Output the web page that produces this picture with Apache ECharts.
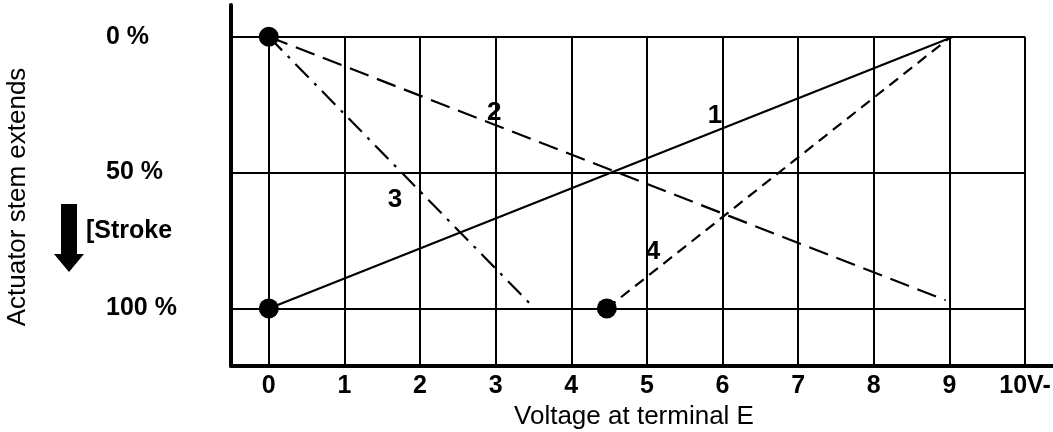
<!DOCTYPE html>
<html><head><meta charset="utf-8">
<script src="https://cdn.jsdelivr.net/npm/echarts@6/dist/echarts.min.js"></script>
<style>html,body{margin:0;padding:0;background:#fff}#c{width:1053px;height:432px}</style>
</head><body><div id="c"></div>
<script>
const xTicks = [0,1,2,3,4,5,6,7,8,9,10];
const xTickLabels = ['0','1','2','3','4','5','6','7','8','9','10V-'];
const yTicks = [0,50,100];
const yTickLabels = ['0 %','50 %','100 %'];
const curve1 = [[0,100],[9.05,0]];
const curve2 = [[0,0],[8.95,97]];
const curve3 = [[0,0],[3.48,99]];
const curve4 = [[4.47,100],[9.02,0]];
const endPoints = [[0,0],[0,100],[4.47,100]];
const curveLabelNames = ['1','2','3','4'];
const curveLabelPos = [[5.9,29],[2.98,28],[1.67,60],[5.08,79.3]];

const X_MIN = -0.5, X_MAX = 10.37, Y_MIN = -11.7, Y_MAX = 121.2;
const FONT = '"Liberation Sans", Arial, sans-serif';

const gridLines = xTicks.map(k => ({coords: [[k, 0], [k, Y_MAX]]}))
  .concat(yTicks.map(v => ({coords: [[X_MIN, v], [10, v]]})));

const chart = echarts.init(document.getElementById('c'), null, {renderer: 'canvas'});
chart.setOption({
  backgroundColor: '#fff',
  animation: false,
  textStyle: {fontFamily: FONT},
  grid: {left: 231, right: 0, top: 5, bottom: 66, containLabel: false, outerBoundsMode: 'none'},
  xAxis: {
    type: 'value', min: X_MIN, max: X_MAX,
    axisLine: {onZero: false, lineStyle: {color: '#000', width: 4}},
    axisTick: {show: false},
    splitLine: {show: false},
    axisLabel: {
      customValues: xTicks,
      formatter: v => xTickLabels[xTicks.indexOf(v)],
      color: '#000', fontWeight: 'bold', fontSize: 25, fontFamily: FONT, margin: 8
    },
    name: 'Voltage at terminal E', nameLocation: 'middle', nameGap: 34,
    nameTextStyle: {color: '#000', fontSize: 26, fontFamily: FONT, padding: [0, 16, 0, 0]}
  },
  yAxis: {
    type: 'value', inverse: true, min: Y_MIN, max: Y_MAX,
    axisLine: {onZero: false, lineStyle: {color: '#000', width: 4}},
    axisTick: {show: false},
    splitLine: {show: false},
    axisLabel: {
      customValues: yTicks,
      formatter: v => yTickLabels[yTicks.indexOf(v)],
      color: '#000', fontWeight: 'bold', fontSize: 25, fontFamily: FONT,
      align: 'left', margin: 125
    },
    name: 'Actuator stem extends', nameLocation: 'middle', nameRotate: 90, nameGap: 200,
    nameTextStyle: {color: '#000', fontSize: 26, fontFamily: FONT, padding: [0, 23, 0, 0]}
  },
  graphic: [
    {type: 'polygon', shape: {points: [[61,204],[77,204],[77,254],[84,254],[69,272],[54,254],[61,254]]}, style: {fill: '#000'}},
    {type: 'text', x: 86, y: 231, style: {text: '[Stroke', font: 'bold 25px ' + FONT, fill: '#000', textVerticalAlign: 'middle', verticalAlign: 'middle'}}
  ],
  series: [
    {type: 'lines', coordinateSystem: 'cartesian2d', silent: true, z: 1,
     lineStyle: {color: '#000', width: 2, opacity: 1}, data: gridLines},
    {type: 'line', data: curve1, symbol: 'none', z: 3, lineStyle: {color: '#000', width: 2.2}},
    {type: 'line', data: curve2, symbol: 'none', z: 3, lineStyle: {color: '#000', width: 2.2, type: [20, 9]}},
    {type: 'line', data: curve3, symbol: 'none', z: 3, lineStyle: {color: '#000', width: 2.2, type: [19, 8, 3, 8]}},
    {type: 'line', data: curve4, symbol: 'none', z: 3, lineStyle: {color: '#000', width: 2.2, type: [11, 7]}},
    {type: 'scatter', data: endPoints, symbol: 'circle', symbolSize: 20, z: 4, itemStyle: {color: '#000', opacity: 1}},
    {type: 'scatter', z: 5, symbolSize: 0, itemStyle: {color: 'transparent', opacity: 1},
     data: curveLabelPos.map((p, i) => ({value: p, name: curveLabelNames[i]})),
     label: {show: true, position: 'inside', formatter: p => p.name, color: '#000', opacity: 1,
             fontWeight: 'bold', fontSize: 26, fontFamily: FONT}}
  ]
});
</script></body></html>
